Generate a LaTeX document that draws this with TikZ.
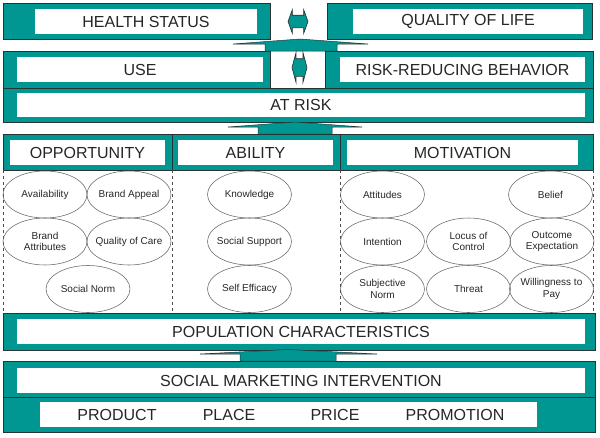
\documentclass[tikz,border=0pt]{standalone}
\usepackage{fontspec}
\setmainfont{Liberation Sans}
\usetikzlibrary{shapes.geometric, shapes.arrows, positioning}
\definecolor{smteal}{RGB}{0,150,146}
\definecolor{smline}{RGB}{40,52,52}
\newcommand{\boxfont}{\fontsize{16}{18}\selectfont}
\newcommand{\ovalfont}{\fontsize{10}{11.5}\selectfont}
\tikzset{
	outerbox/.style={draw=smline, line width=.8pt, fill=smteal, inner sep=0pt},
	innerbox/.style={fill=white, inner sep=0pt, minimum height=25pt, font=\boxfont, text=black!85},
	ptext/.style={inner sep=0pt, font=\boxfont, text=black!85},
	factor/.style={ellipse, draw=black!60, line width=.55pt, minimum width=84pt, minimum height=47pt,
		inner xsep=-8pt, inner ysep=0pt, align=center, font=\ovalfont, text=black!85},
	blockarrow/.style={fill=smteal, draw=smline, line width=.5pt, line join=round},
	twoway/.style={double arrow, fill=smteal, draw=smline, line width=.6pt, inner xsep=0pt}
}

\begin{document}
\begin{tikzpicture}[x=1pt, y=-1pt]
\useasboundingbox (0,0) rectangle (600,437);
% outcomes
\node[outerbox, minimum width=267pt, minimum height=36pt] (hsOut) at (136.5,21) {};
\node[innerbox, minimum width=222pt] (health) at (146,21.5) {HEALTH STATUS};
\node[outerbox, minimum width=265pt, minimum height=36pt] (qolOut) at (459.5,21) {};
\node[innerbox, minimum width=230pt] (quality) at (468,21.5) {QUALITY OF LIFE};
\node[twoway, minimum height=20pt, inner ysep=6pt, double arrow head extend=5.5pt, double arrow tip angle=140] (link1) at (298,21.5) {};
\draw[blockarrow] (233,44) -- (300,39) -- (368,44) -- (337,44) -- (337,51) -- (265,51) -- (265,44) -- cycle;
% behaviour
\node[outerbox, minimum width=590pt, minimum height=34pt] (riskOut) at (298,105) {};
\node[innerbox, minimum width=568pt, minimum height=24pt] (atrisk) at (301,105) {AT RISK};
\node[outerbox, minimum width=267pt, minimum height=37pt] (useOut) at (136.5,69.5) {};
\node[innerbox, minimum width=246pt] (use) at (140,69.5) {USE};
\node[outerbox, minimum width=268pt, minimum height=37pt] (rrbOut) at (459,69.5) {};
\node[innerbox, minimum width=245pt] (rrb) at (462.5,69.5) {RISK-REDUCING BEHAVIOR};
\node[twoway, minimum height=15pt, inner ysep=8.5pt, double arrow head extend=6pt, double arrow tip angle=150] (link2) at (299.5,67.5) {};
\draw[blockarrow] (228,127) -- (295,122) -- (362,127) -- (332,127) -- (332,134) -- (258,134) -- (258,127) -- cycle;
% determinants
\node[outerbox, minimum width=590pt, minimum height=36pt] (hdrOut) at (298,152) {};
\draw[smline, line width=.8pt] (172,134) -- (172,170) (340,134) -- (340,170);
\node[innerbox, minimum width=155pt] (opp) at (87.5,152.5) {OPPORTUNITY};
\node[innerbox, minimum width=155pt] (abil) at (255.5,152.5) {ABILITY};
\node[innerbox, minimum width=231pt] (motiv) at (462.5,152.5) {MOTIVATION};
\foreach \x in {3,172,340,593}
	\draw[dashed, black!70, line width=.4pt] (\x,170) -- (\x,313);
\node[factor] (avail) at (45,194.5) {Availability};
\node[factor] (appeal) at (129,194.5) {Brand Appeal};
\node[factor] (attrib) at (45,241.5) {Brand\\Attributes};
\node[factor] (care) at (129,241.5) {Quality of Care};
\node[factor] (socnorm) at (88,289) {Social Norm};
\node[factor] (knowl) at (249.5,194.5) {Knowledge};
\node[factor] (support) at (249.5,241.5) {Social Support};
\node[factor] (efficacy) at (249.5,289) {Self Efficacy};
\node[factor] (attit) at (382.5,194.5) {Attitudes};
\node[factor] (belief) at (550.5,194.5) {Belief};
\node[factor] (intent) at (382.5,241.5) {Intention};
\node[factor] (locus) at (468.5,241.5) {Locus of\\Control};
\node[factor] (outcome) at (552,241.5) {Outcome\\Expectation};
\node[factor] (subjnorm) at (382.5,289) {Subjective\\Norm};
\node[factor] (threat) at (468.5,289) {Threat};
\node[factor] (willing) at (551.5,289) {Willingness to\\Pay};
% population and intervention
\node[outerbox, minimum width=592pt, minimum height=37pt] (popOut) at (299,331.5) {};
\node[innerbox, minimum width=568pt] (pop) at (301,331.5) {POPULATION CHARACTERISTICS};
\draw[blockarrow] (200,354) -- (288,349.5) -- (377,354) -- (336,354) -- (336,361) -- (240,361) -- (240,354) -- cycle;
\node[outerbox, minimum width=592pt, minimum height=36pt] (smiOut) at (299,379) {};
\node[innerbox, minimum width=568pt] (smi) at (301,380.5) {SOCIAL MARKETING INTERVENTION};
\node[outerbox, minimum width=592pt, minimum height=35pt] (mixOut) at (299,414.5) {};
\node[innerbox, minimum width=497pt] (mix) at (288.5,414.5) {};
\node[ptext] (product) at (117,414.5) {PRODUCT};
\node[ptext] (place) at (229,414.5) {PLACE};
\node[ptext] (price) at (335,414.5) {PRICE};
\node[ptext] (promo) at (455,414.5) {PROMOTION};
\end{tikzpicture}
\end{document}
